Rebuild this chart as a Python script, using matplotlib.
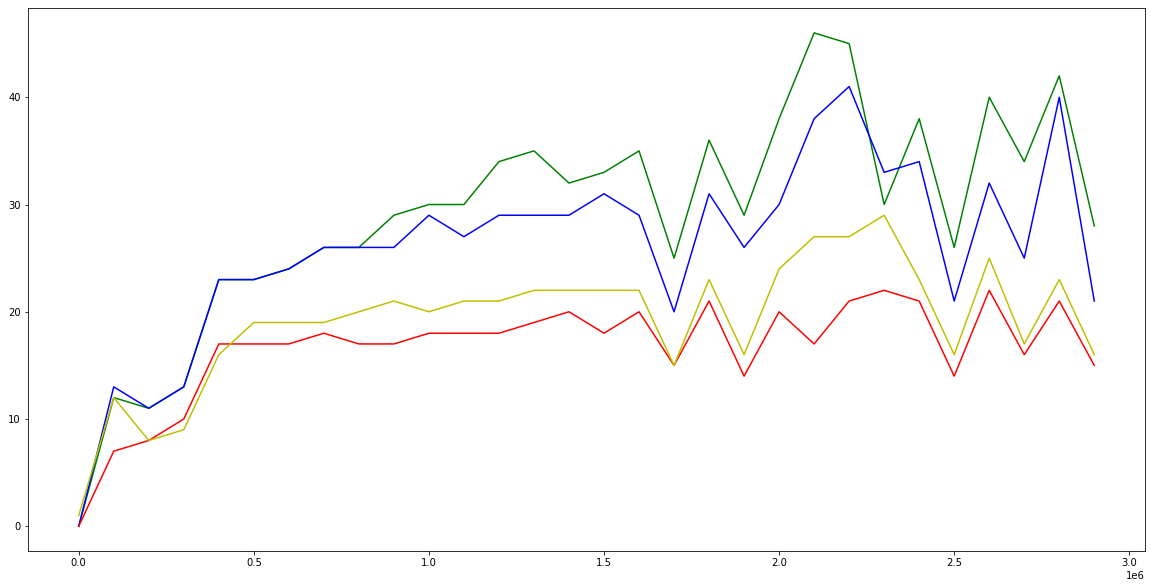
import matplotlib
matplotlib.use("Agg")
import matplotlib.pyplot as plt
import numpy as np

# x positions: 0 .. 2.9e6 in steps of 1e5
steps = np.arange(30) * 100000

green = [0, 12, 11, 13, 23, 23, 24, 26, 26, 29, 30, 30, 34, 35, 32, 33, 35, 25, 36, 29,
         38, 46, 45, 30, 38, 26, 40, 34, 42, 28]
blue = [0, 13, 11, 13, 23, 23, 24, 26, 26, 26, 29, 27, 29, 29, 29, 31, 29, 20, 31, 26,
        30, 38, 41, 33, 34, 21, 32, 25, 40, 21]
red = [0, 7, 8, 10, 17, 17, 17, 18, 17, 17, 18, 18, 18, 19, 20, 18, 20, 15, 21, 14,
       20, 17, 21, 22, 21, 14, 22, 16, 21, 15]
yellow = [1, 12, 8, 9, 16, 19, 19, 19, 20, 21, 20, 21, 21, 22, 22, 22, 22, 15, 23, 16,
          24, 27, 27, 29, 23, 16, 25, 17, 23, 16]

fig = plt.figure(figsize=(1150 / 72, 588 / 72), dpi=72)
ax = fig.add_axes([0.0243, 0.063, 0.9714, 0.923])

ax.plot(steps, green, 'g')
ax.plot(steps, blue, 'b')
ax.plot(steps, red, 'r')
ax.plot(steps, yellow, 'y')

fig.savefig("out.png", dpi=72)
